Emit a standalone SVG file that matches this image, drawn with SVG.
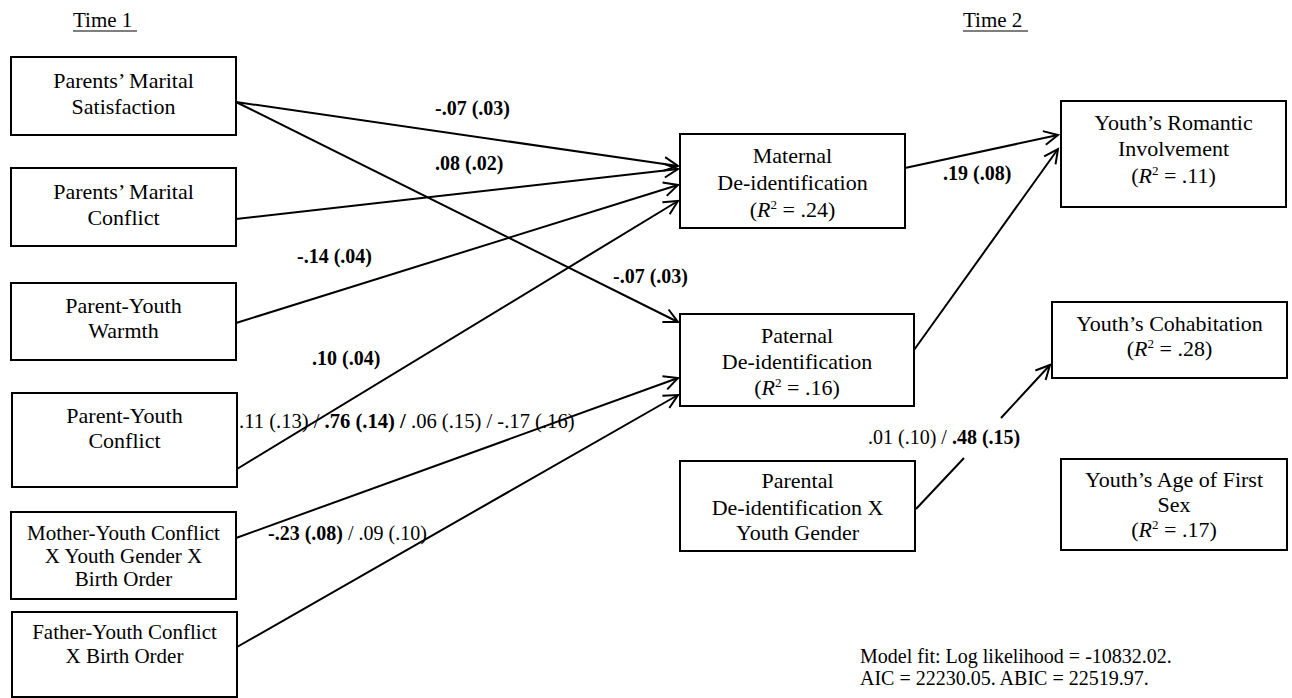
<svg xmlns="http://www.w3.org/2000/svg" width="1292" height="698" viewBox="0 0 1292 698">
<defs>
<style>
.box{fill:#fff;stroke:#000;stroke-width:2}
.t{font-family:"Liberation Serif","Times New Roman",serif;font-size:22px;fill:#000;text-anchor:middle}
.ts{font-family:"Liberation Serif","Times New Roman",serif;font-size:21px;fill:#000;text-anchor:middle}
.lb{font-family:"Liberation Serif","Times New Roman",serif;font-size:20px;fill:#000}
.b{font-weight:bold}
.hd{font-family:"Liberation Serif","Times New Roman",serif;font-size:21px;fill:#000}
.c{fill:none;stroke:#000;stroke-width:2;marker-end:url(#arr)}
</style>
<marker id="arr" markerUnits="userSpaceOnUse" markerWidth="20" markerHeight="20" viewBox="0 0 20 20" refX="17" refY="10" orient="auto">
<path d="M3,3 L17,10 L3,17" fill="none" stroke="#000" stroke-width="2"/>
</marker>
</defs>
<rect width="1292" height="698" fill="#fff"/>

<g id="headers">
<text class="hd" x="73" y="27">Time 1</text>
<line x1="73" y1="31" x2="137" y2="31" stroke="#000" stroke-width="1.2"/>
<text class="hd" x="963" y="27">Time 2</text>
<line x1="963" y1="31" x2="1028" y2="31" stroke="#000" stroke-width="1.2"/>
</g>

<g id="connectors">
<path class="c" d="M236,102 L678,166"/>
<path class="c" d="M236,102 L678,322"/>
<path class="c" d="M236,219 L678,169"/>
<path class="c" d="M236,323 L678,185"/>
<path class="c" d="M237,469 L678,201"/>
<path class="c" d="M236,538 L678,378"/>
<path class="c" d="M237,647 L678,395"/>
<path class="c" d="M905,168 L1058,135"/>
<path class="c" d="M914,350 L1058,149"/>
<path class="c" d="M916,509 L964,458 M1001,418 L1050,365"/>
</g>

<g id="n-sat">
<rect class="box" x="11" y="57" width="225" height="78"/>
<text class="t" x="123.5" y="88">Parents’ Marital</text>
<text class="t" x="123.5" y="114">Satisfaction</text>
</g>
<g id="n-conflict">
<rect class="box" x="11" y="168" width="225" height="78"/>
<text class="t" x="123.5" y="199">Parents’ Marital</text>
<text class="t" x="123.5" y="225">Conflict</text>
</g>
<g id="n-warmth">
<rect class="box" x="11" y="283" width="225" height="77"/>
<text class="t" x="123.5" y="313">Parent-Youth</text>
<text class="t" x="123.5" y="338">Warmth</text>
</g>
<g id="n-pyconflict">
<rect class="box" x="12" y="393" width="225" height="94"/>
<text class="t" x="124.5" y="423">Parent-Youth</text>
<text class="t" x="124.5" y="448">Conflict</text>
</g>
<g id="n-mother">
<rect class="box" x="11" y="512" width="225" height="87"/>
<text class="ts" x="123.5" y="540">Mother-Youth Conflict</text>
<text class="ts" x="123.5" y="563">X Youth Gender X</text>
<text class="ts" x="123.5" y="586">Birth Order</text>
</g>
<g id="n-father">
<rect class="box" x="12" y="612" width="225" height="85"/>
<text class="ts" x="124.5" y="639">Father-Youth Conflict</text>
<text class="ts" x="124.5" y="663">X Birth Order</text>
</g>
<g id="n-maternal">
<rect class="box" x="680" y="134" width="225" height="94"/>
<text class="t" x="792.5" y="163">Maternal</text>
<text class="t" x="792.5" y="190">De-identification</text>
<text class="t" x="792.5" y="217">(<tspan font-style="italic">R</tspan><tspan dy="-8" font-size="13">2</tspan><tspan dy="8"> = .24)</tspan></text>
</g>
<g id="n-paternal">
<rect class="box" x="680" y="314" width="234" height="92"/>
<text class="t" x="797" y="343">Paternal</text>
<text class="t" x="797" y="369">De-identification</text>
<text class="t" x="797" y="395">(<tspan font-style="italic">R</tspan><tspan dy="-8" font-size="13">2</tspan><tspan dy="8"> = .16)</tspan></text>
</g>
<g id="n-parental">
<rect class="box" x="680" y="461" width="235" height="90"/>
<text class="t" x="797.5" y="488">Parental</text>
<text class="t" x="797.5" y="515">De-identification X</text>
<text class="t" x="797.5" y="540">Youth Gender</text>
</g>
<g id="n-romantic">
<rect class="box" x="1061" y="101" width="225" height="106"/>
<text class="t" x="1173.5" y="130">Youth’s Romantic</text>
<text class="t" x="1173.5" y="156">Involvement</text>
<text class="t" x="1173.5" y="183">(<tspan font-style="italic">R</tspan><tspan dy="-8" font-size="13">2</tspan><tspan dy="8"> = .11)</tspan></text>
</g>
<g id="n-cohab">
<rect class="box" x="1052" y="302" width="235" height="76"/>
<text class="t" x="1169.5" y="331">Youth’s Cohabitation</text>
<text class="t" x="1169.5" y="356">(<tspan font-style="italic">R</tspan><tspan dy="-8" font-size="13">2</tspan><tspan dy="8"> = .28)</tspan></text>
</g>
<g id="n-agesex">
<rect class="box" x="1061" y="459" width="226" height="91"/>
<text class="t" x="1174" y="487">Youth’s Age of First</text>
<text class="t" x="1174" y="512">Sex</text>
<text class="t" x="1174" y="537">(<tspan font-style="italic">R</tspan><tspan dy="-8" font-size="13">2</tspan><tspan dy="8"> = .17)</tspan></text>
</g>

<g id="labels">
<text class="lb b" x="435" y="115">-.07 (.03)</text>
<text class="lb b" x="435" y="170">.08 (.02)</text>
<text class="lb b" x="613" y="283">-.07 (.03)</text>
<text class="lb b" x="297" y="263">-.14 (.04)</text>
<text class="lb b" x="312" y="365">.10 (.04)</text>
<text class="lb" x="239" y="428" style="font-size:20.6px">.11 (.13) / <tspan class="b">.76 (.14) /</tspan> .06 (.15) / -.17 (.16)</text>
<text class="lb" x="268" y="540"><tspan class="b">-.23 (.08)</tspan> / .09 (.10)</text>
<text class="lb b" x="943" y="180">.19 (.08)</text>
<text class="lb" x="868" y="444">.01 (.10) / <tspan class="b">.48 (.15)</tspan></text>
</g>

<g id="fit">
<text class="lb" x="860" y="663">Model fit: Log likelihood = -10832.02.</text>
<text class="lb" x="860" y="685">AIC = 22230.05. ABIC = 22519.97.</text>
</g>
</svg>
